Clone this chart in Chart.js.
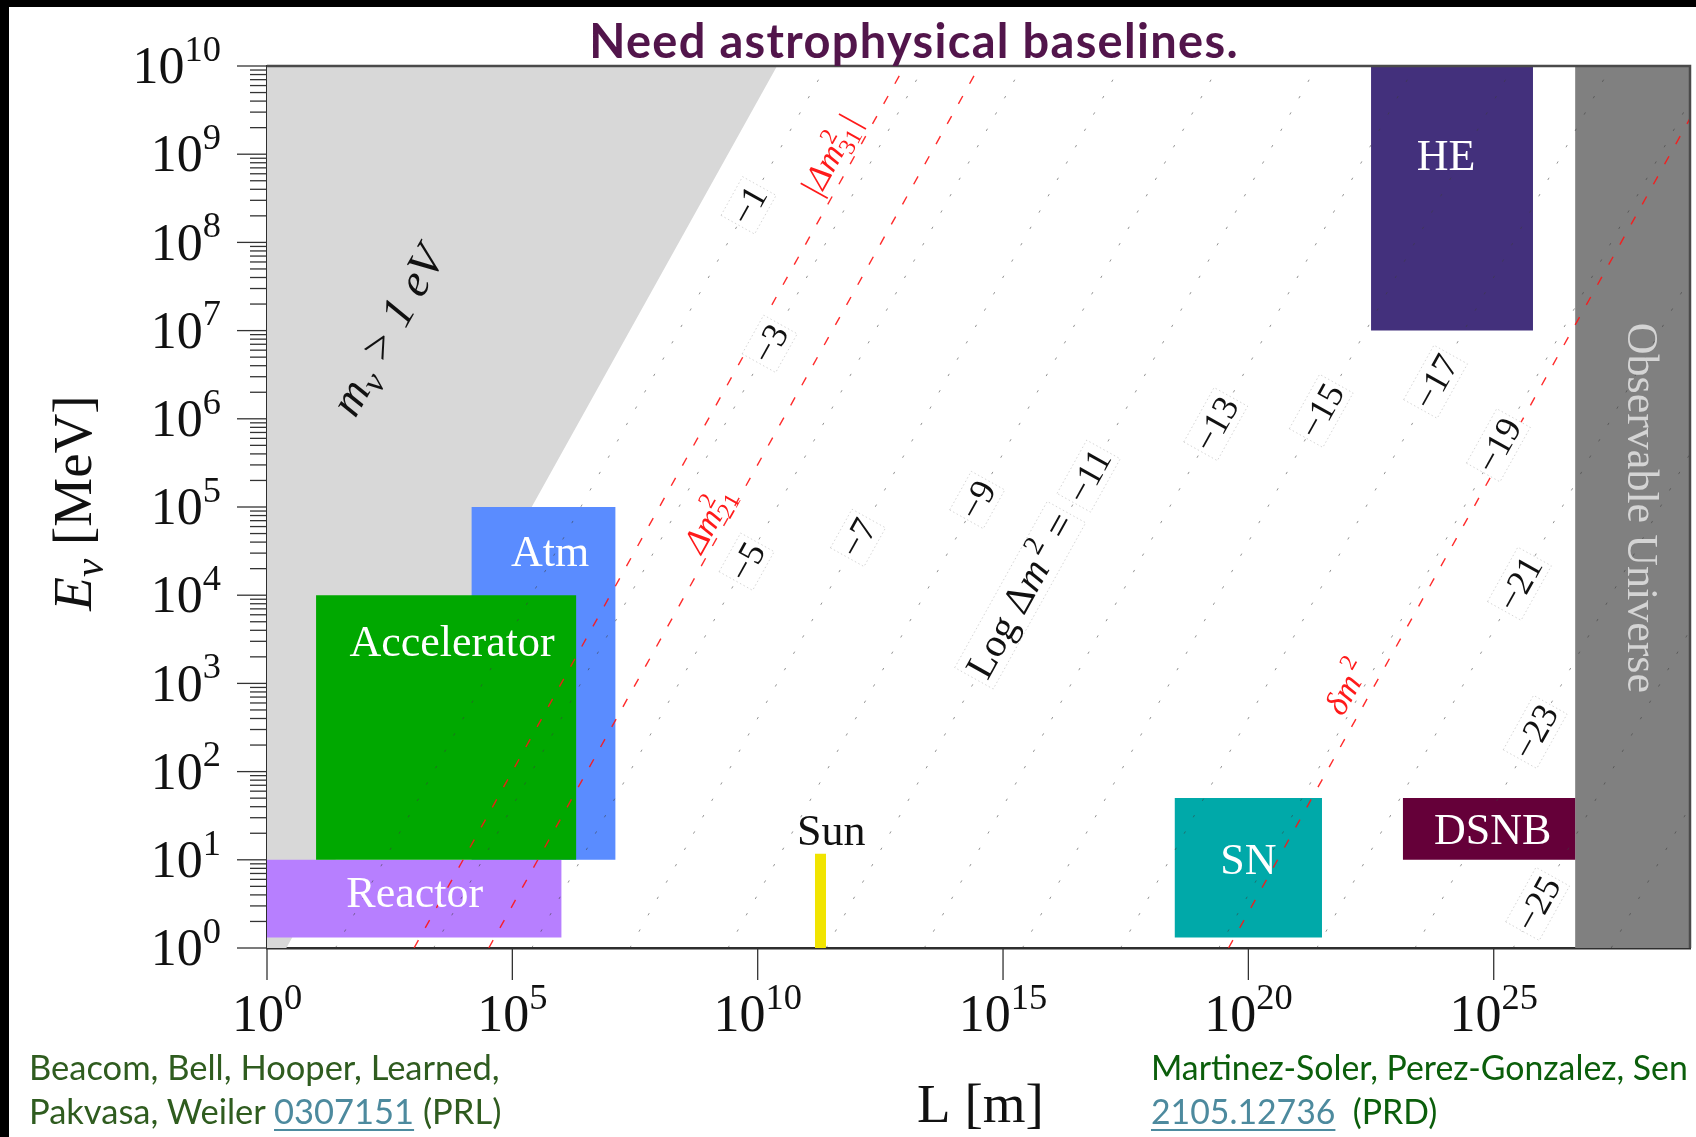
<!DOCTYPE html>
<html>
<head>
<meta charset="utf-8">
<title>Need astrophysical baselines</title>
<script src="https://cdn.jsdelivr.net/npm/chart.js"></script>
<style>
  html, body { margin: 0; padding: 0; background: #fff; }
  #page { position: relative; width: 1696px; height: 1137px; overflow: hidden; background: #fff; }
  #c { position: absolute; left: 0; top: 0; }
  .edge-top { position: absolute; left: 0; top: 0; width: 1696px; height: 7px; background: #000; }
  .edge-left { position: absolute; left: 0; top: 0; width: 9px; height: 1137px; background: #000; }
  .title { position: absolute; left: 914px; top: 17px; transform: translateX(-50%);
           font: bold 47px "Lato", "Open Sans", sans-serif; letter-spacing: 1.3px; line-height: 47px;
           color: #52154b; white-space: nowrap; }
  .ref { position: absolute; font: 34.5px "Lato", "Open Sans", sans-serif; line-height: 34.5px; white-space: nowrap; }
  .ref.a { color: #2f5c1f; left: 29px; }
  .ref.b { color: #0b5e0b; left: 1151px; font-size: 33.8px; }
  .lnk { color: #4d8a9e; text-decoration: underline; text-decoration-thickness: 2px; text-underline-offset: 5px; }
</style>
</head>
<body>
<div id="page">
  <canvas id="c" width="1696" height="1137"></canvas>
  <div class="title">Need astrophysical baselines.</div>
  <div class="ref a" style="top:1050px">Beacom, Bell, Hooper, Learned,</div>
  <div class="ref a" style="top:1094px">Pakvasa, Weiler <span class="lnk">0307151</span> (PRL)</div>
  <div class="ref b" style="top:1050px">Martinez-Soler, Perez-Gonzalez, Sen</div>
  <div class="ref b" style="top:1094px"><span class="lnk">2105.12736</span>&nbsp; (PRD)</div>
  <div class="edge-top"></div>
  <div class="edge-left"></div>
</div>
<script>
// ---------------- data ----------------
// axis ranges, in decades: baseline L [m] and neutrino energy E [MeV]
const lExpRange = [0, 29];
const eExpRange = [0, 10];
const xTickExps = [0, 5, 10, 15, 20, 25];
const yTickExps = [0, 1, 2, 3, 4, 5, 6, 7, 8, 9, 10];

// oscillation length  L = oscK * E / dm2   (L in m, E in MeV, dm2 in eV^2)
const oscK = 2.48;

// experimental windows: log10 L range, log10 E range
const expNames  = ['Accelerator', 'Atm', 'Reactor', 'HE', 'SN', 'DSNB'];
const expLogL   = [[1.0, 6.3], [4.17, 7.1], [0.0, 6.0], [22.5, 25.8], [18.5, 21.5], [23.15, 26.66]];
const expLogE   = [[1.0, 4.0], [1.0, 5.0], [0.12, 1.0], [7.0, 10.0], [0.12, 1.7], [1.0, 1.7]];
const expColors = ['#00a800', '#5a8cff', '#b77fff', '#43307c', '#00a9a9', '#650039'];
const expLabelLogL = [3.77, 5.77, 3.01, 24.03, 20.0, 24.98];
const expLabelLogE = [3.48, 4.50, 0.635, 8.99, 1.0, 1.34];

// solar neutrinos at 1 AU
const sunLogL = 11.28;
const sunLogE = [0, 1.07];
const sunLabelAt = [11.5, 1.33];

// size of the observable universe (log10 m)
const universeLogL = 26.66;
const universeLabelAt = [28.03, 4.99];

// region excluded by m_nu > 1 eV
const massBoundDm2 = 1;
const massLabelAt = [2.45, 7.0];

// iso-lines of log10(dm2 / eV^2)
const contourLevels = [-1, -3, -5, -7, -9, -11, -13, -15, -17, -19, -21, -23, -25, -27];
const contourLabelLogE = [8.42, 6.85, 4.38, 4.65, 5.08, 5.35, 5.94, 6.09, 6.42, 5.70, 4.13, 2.45, 0.50];
const contourTitleAt = [15.35, 4.0];

// measured splittings (eV^2)
const splitKeys   = ['dm31', 'dm21', 'dmSmall'];
const splitValues = [2.5e-3, 7.5e-5, 6.3e-20];
const splitLabelLogL = [11.48, 9.0, 22.01];
const splitLabelLogE = [8.99, 4.86, 2.965];

// ---------------- helpers ----------------
const log10K = Math.log10(oscK);
const oscLogL = (logE, dm2) => logE + log10K - Math.log10(dm2);
const pt = (lx, le) => ({ x: Math.pow(10, lx), y: Math.pow(10, le) });
const rect = (lr, er) => [pt(lr[0], er[0]), pt(lr[1], er[0]), pt(lr[1], er[1]), pt(lr[0], er[1]), pt(lr[0], er[0])];

const SERIF = '"Liberation Serif", "Times New Roman", serif';
const serif = (px, it) => (it ? 'italic ' : '') + px.toFixed(1) + 'px ' + SERIF;

// rich text: runs of plain text, scaled/shifted text, or stacked super/subscripts
function layoutRuns(ctx, runs, size) {
  let x = 0; const items = [];
  for (const r of runs) {
    if (r.sup !== undefined || r.sub !== undefined) {
      const s = size * 0.7;
      ctx.font = serif(s, r.it);
      const w1 = r.sup ? ctx.measureText(r.sup).width : 0;
      const w2 = r.sub ? ctx.measureText(r.sub).width : 0;
      items.push({ r, x, s });
      x += Math.max(w1, w2) + size * 0.04;
    } else {
      const s = size * (r.s || 1);
      ctx.font = serif(s, r.it);
      items.push({ r, x, s });
      x += ctx.measureText(r.t).width;
    }
  }
  return { w: x, items };
}

function drawRuns(ctx, runs, size, px, py, angle, color, align, box) {
  ctx.save();
  ctx.translate(px, py);
  ctx.rotate(angle);
  const { w, items } = layoutRuns(ctx, runs, size);
  const x0 = align === 'right' ? -w : (align === 'left' ? 0 : -w / 2);
  const base = size * 0.33;
  if (box) {
    const p = box.pad;
    ctx.fillStyle = '#fff';
    ctx.fillRect(x0 - p, -size * 0.45 - p, w + 2 * p, size * 0.9 + 2 * p);
    ctx.strokeStyle = 'rgba(150,150,150,0.45)';
    ctx.lineWidth = 0.8;
    ctx.setLineDash([1.5, 2.5]);
    ctx.strokeRect(x0 - p, -size * 0.45 - p, w + 2 * p, size * 0.9 + 2 * p);
    ctx.setLineDash([]);
  }
  ctx.fillStyle = color;
  ctx.textAlign = 'left';
  ctx.textBaseline = 'alphabetic';
  for (const it of items) {
    const r = it.r;
    ctx.font = serif(it.s, r.it);
    if (r.sup !== undefined || r.sub !== undefined) {
      if (r.sup) ctx.fillText(r.sup, x0 + it.x, base - size * 0.42);
      if (r.sub) ctx.fillText(r.sub, x0 + it.x, base + size * 0.22);
    } else {
      ctx.fillText(r.t, x0 + it.x, base + (r.dy || 0) * size);
    }
  }
  ctx.restore();
}

const splitRuns = {
  dm31: [{ t: '|Δ', it: true }, { t: 'm', it: true }, { sup: '2', sub: '31' }, { t: '|', it: true }],
  dm21: [{ t: 'Δ', it: true }, { t: 'm', it: true }, { sup: '2', sub: '21' }],
  dmSmall: [{ t: 'δ', it: true }, { t: 'm', it: true }, { t: ' ', s: 0.5 }, { sup: '2' }]
};

// ---------------- datasets ----------------
const datasets = [];

splitValues.forEach((dm2, i) => datasets.push({
  label: splitKeys[i], order: 1,
  data: [pt(oscLogL(eExpRange[0], dm2), eExpRange[0]), pt(oscLogL(eExpRange[1], dm2), eExpRange[1])],
  borderColor: 'rgba(255,20,20,0.9)', borderWidth: 1.4, borderDash: [9, 14], fill: false
}));

contourLevels.forEach(n => datasets.push({
  label: 'log dm2 = ' + n, order: 2,
  data: [pt(oscLogL(eExpRange[0], Math.pow(10, n)), eExpRange[0]), pt(oscLogL(eExpRange[1], Math.pow(10, n)), eExpRange[1])],
  borderColor: 'rgba(60,60,60,0.55)', borderWidth: 1, borderDash: [2.5, 16.2], fill: false
}));

datasets.push({
  label: 'Sun', order: 3,
  data: [pt(sunLogL, sunLogE[0]), pt(sunLogL, sunLogE[1])],
  borderColor: '#f1e400', borderWidth: 11, borderCapStyle: 'butt', fill: false
});

expNames.forEach((name, i) => datasets.push({
  label: name, order: 4 + i,
  data: rect(expLogL[i], expLogE[i]),
  fill: 'shape', backgroundColor: expColors[i], borderColor: 'rgba(0,0,0,0)', borderWidth: 0
}));

datasets.push({
  label: 'Observable Universe', order: 20,
  data: rect([universeLogL, lExpRange[1]], eExpRange),
  fill: 'shape', backgroundColor: '#808080', borderColor: 'rgba(0,0,0,0)', borderWidth: 0
});

datasets.push({
  label: 'm > 1 eV', order: 21,
  data: [pt(lExpRange[0], eExpRange[0]), pt(oscLogL(eExpRange[0], massBoundDm2), eExpRange[0]),
         pt(oscLogL(eExpRange[1], massBoundDm2), eExpRange[1]), pt(lExpRange[0], eExpRange[1]),
         pt(lExpRange[0], eExpRange[0])],
  fill: 'shape', backgroundColor: '#d8d8d8', borderColor: 'rgba(0,0,0,0)', borderWidth: 0
});

// ---------------- annotation / axis drawing ----------------
const overlay = {
  id: 'overlay',
  afterDatasetsDraw(chart) {
    const ctx = chart.ctx, xs = chart.scales.x, ys = chart.scales.y;
    const P = (lx, le) => [xs.getPixelForValue(Math.pow(10, lx)), ys.getPixelForValue(Math.pow(10, le))];
    const dx = xs.getPixelForValue(10) - xs.getPixelForValue(1);
    const dy = ys.getPixelForValue(10) - ys.getPixelForValue(1);
    const slant = Math.atan2(dy, dx);
    ctx.save();
    ctx.beginPath();
    ctx.rect(chart.chartArea.left, chart.chartArea.top, chart.chartArea.right - chart.chartArea.left, chart.chartArea.bottom - chart.chartArea.top);
    ctx.clip();

    // iso-line labels
    contourLabelLogE.forEach((le, i) => {
      const n = contourLevels[i];
      const [px, py] = P(oscLogL(le, Math.pow(10, n)), le);
      drawRuns(ctx, [{ t: '\u2212' + Math.abs(n) }], 36, px, py, slant, '#111', 'center', { pad: 3 });
    });
    {
      const [px, py] = P(contourTitleAt[0], contourTitleAt[1]);
      drawRuns(ctx, [{ t: 'Log Δ' }, { t: 'm', it: true }, { t: ' ', s: 0.5 }, { sup: '2' }, { t: ' =' }],
               40, px, py, slant, '#111', 'center', { pad: 4 });
    }
    // splitting labels
    splitKeys.forEach((k, i) => {
      const [px, py] = P(splitLabelLogL[i], splitLabelLogE[i]);
      drawRuns(ctx, splitRuns[k], 34, px, py, slant, '#ff1a1a', 'center');
    });
    // mass bound label
    {
      const [px, py] = P(massLabelAt[0], massLabelAt[1]);
      drawRuns(ctx, [{ t: 'm', it: true }, { t: 'ν', it: true, s: 0.75, dy: 0.2 }, { t: ' > 1 eV', it: true }],
               46, px, py, slant, '#111', 'center');
    }
    // experiment labels
    expNames.forEach((name, i) => {
      const [px, py] = P(expLabelLogL[i], expLabelLogE[i]);
      drawRuns(ctx, [{ t: name }], 44, px, py, 0, '#ffffff', 'center');
    });
    {
      const [px, py] = P(sunLabelAt[0], sunLabelAt[1]);
      drawRuns(ctx, [{ t: 'Sun' }], 44, px, py, 0, '#111', 'center');
    }
    {
      const [px, py] = P(universeLabelAt[0], universeLabelAt[1]);
      drawRuns(ctx, [{ t: 'Observable Universe' }], 44, px, py, Math.PI / 2, '#d4d4d4', 'center');
    }
    ctx.restore();
  },
  afterDraw(chart) {
    const ctx = chart.ctx, xs = chart.scales.x, ys = chart.scales.y, a = chart.chartArea;
    ctx.save();
    // frame on the top and right sides of the plot
    ctx.strokeStyle = '#4a4a4a';
    ctx.lineWidth = 2.5;
    ctx.beginPath();
    ctx.moveTo(a.left, a.top); ctx.lineTo(a.right, a.top); ctx.lineTo(a.right, a.bottom);
    ctx.stroke();

    // y ticks: decades long, log minors short
    ctx.strokeStyle = '#333';
    ctx.lineWidth = 1.3;
    for (const t of ys.ticks) {
      const y = ys.getPixelForValue(t.value);
      const len = t.major ? 30 : 17;
      ctx.beginPath(); ctx.moveTo(a.left - len, y); ctx.lineTo(a.left, y); ctx.stroke();
    }
    // x ticks at labelled decades
    for (const t of xs.ticks) {
      if (!t.major) continue;
      const x = xs.getPixelForValue(t.value);
      ctx.beginPath(); ctx.moveTo(x, a.bottom); ctx.lineTo(x, a.bottom + 32); ctx.stroke();
    }
    // tick labels
    for (const e of yTickExps) {
      const y = ys.getPixelForValue(Math.pow(10, e));
      drawRuns(ctx, [{ t: '10' }, { t: String(e), s: 0.7, dy: -0.43 }], 52, a.left - 46, y, 0, '#111', 'right');
    }
    for (const e of xTickExps) {
      const x = xs.getPixelForValue(Math.pow(10, e));
      drawRuns(ctx, [{ t: '10' }, { t: String(e), s: 0.7, dy: -0.43 }], 52, x, a.bottom + 66, 0, '#111', 'center');
    }
    // axis titles
    drawRuns(ctx, [{ t: 'E', it: true }, { t: 'ν', it: true, s: 0.75, dy: 0.22 }, { t: ' [MeV]' }],
             55, 73, (a.top + a.bottom) / 2 - 4, -Math.PI / 2, '#111', 'center');
    drawRuns(ctx, [{ t: 'L [m]' }], 55, (a.left + a.right) / 2 + 2, a.bottom + 156, 0, '#111', 'center');
    ctx.restore();
  }
};

function buildChart() {
  new Chart(document.getElementById('c'), {
    type: 'line',
    data: { datasets },
    plugins: [overlay],
    options: {
      responsive: false,
      animation: false,
      events: [],
      layout: { padding: { left: 0, top: 66, right: 6, bottom: 0 } },
      elements: { point: { radius: 0 }, line: { tension: 0 } },
      plugins: { legend: { display: false }, tooltip: { enabled: false }, title: { display: false } },
      scales: {
        x: {
          type: 'logarithmic',
          min: Math.pow(10, lExpRange[0]), max: Math.pow(10, lExpRange[1]),
          afterBuildTicks: s => {
            const t = [];
            for (let e = lExpRange[0]; e <= lExpRange[1]; e++) t.push({ value: Math.pow(10, e), major: xTickExps.includes(e) });
            s.ticks = t;
          },
          afterFit: s => { s.height = 189; },
          grid: { display: false, drawTicks: false },
          ticks: { display: false },
          border: { display: true, color: '#2e2e2e', width: 2.5 }
        },
        y: {
          type: 'logarithmic',
          min: Math.pow(10, eExpRange[0]), max: Math.pow(10, eExpRange[1]),
          afterBuildTicks: s => {
            const t = [];
            for (let e = eExpRange[0]; e <= eExpRange[1]; e++) {
              t.push({ value: Math.pow(10, e), major: true });
              if (e < eExpRange[1]) for (let m = 2; m <= 9; m++) t.push({ value: m * Math.pow(10, e), major: false });
            }
            s.ticks = t;
          },
          afterFit: s => { s.width = 267; },
          grid: { display: false, drawTicks: false },
          ticks: { display: false },
          border: { display: true, color: '#2e2e2e', width: 2.5 }
        }
      }
    }
  });
}

const fontLoads = [
  document.fonts.load('52px "Liberation Serif"'),
  document.fonts.load('italic 52px "Liberation Serif"'),
  document.fonts.load('bold 47px "Lato"'),
  document.fonts.load('34.5px "Lato"')
];
Promise.all(fontLoads).then(buildChart, buildChart);
</script>
</body>
</html>
